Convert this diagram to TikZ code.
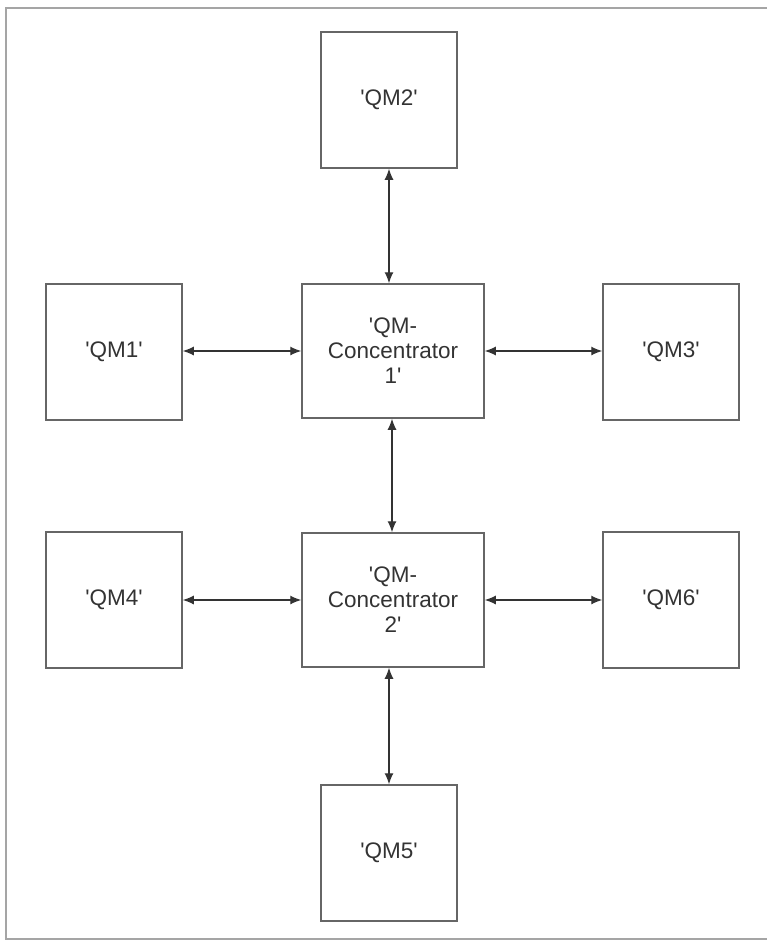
\documentclass[tikz,border=0pt]{standalone}
\usepackage{fontspec}
\newfontfamily\qmfont{Liberation Sans}
\usetikzlibrary{arrows.meta}
\definecolor{boxgray}{HTML}{666666}
\definecolor{textgray}{HTML}{333333}
\definecolor{framegray}{HTML}{A5A5A5}
\begin{document}
\begin{tikzpicture}[x=1pt, y=-1pt,
    qm/.style={draw=boxgray, line width=1.5pt, minimum width=136pt, minimum height=136pt,
               inner sep=0pt, font=\qmfont\fontsize{22.5}{25}\selectfont, text=textgray, align=center},
    conc/.style={qm, minimum width=182pt, minimum height=134pt},
    link/.style={draw=textgray, line width=1.2pt, {Latex[length=11pt,width=9pt]}-{Latex[length=11pt,width=9pt]}}]
    \useasboundingbox (0,0) rectangle (767,940);
    % frame, open on the right
    \draw[framegray, line width=2pt] (770,8) -- (5.5,8) -- (5.5,939) -- (770,939);

    \node[conc] (qmc1) at (393,351) {'QM-\\Concentrator\\1'};
    \node[conc] (qmc2) at (393,600) {'QM-\\Concentrator\\2'};
    \node[qm] (qm2) at (389,100) {'QM2'};
    \node[qm] (qm5) at (389,853) {'QM5'};
    \node[qm] (qm1) at (114,352) {'QM1'};
    \node[qm] (qm3) at (671,352) {'QM3'};
    \node[qm] (qm4) at (114,600) {'QM4'};
    \node[qm] (qm6) at (671,600) {'QM6'};

    \draw[link] (qm2.south) -- (qm2.south |- qmc1.north);
    \draw[link] (qm1.east |- qmc1.west) -- (qmc1.west);
    \draw[link] (qmc1.east) -- (qm3.west |- qmc1.east);
    \draw[link] ([xshift=-1pt]qmc1.south) -- ([xshift=-1pt]qmc2.north);
    \draw[link] (qm4.east) -- (qmc2.west);
    \draw[link] (qmc2.east) -- (qm6.west);
    \draw[link] (qm5.north |- qmc2.south) -- (qm5.north);
\end{tikzpicture}
\end{document}
